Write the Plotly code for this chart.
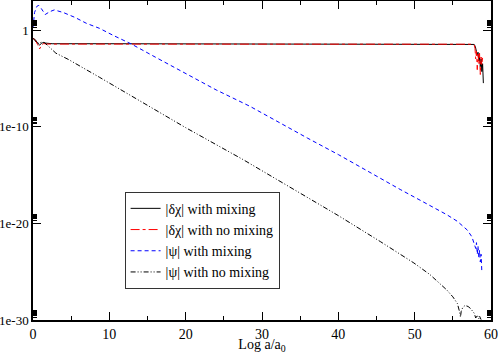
import plotly.graph_objects as go

# |delta chi| with mixing
chi_mix_x = [0, 0.3, 0.6, 0.87, 1.1, 1.3, 1.7, 2.5, 10, 20, 30, 40, 50, 57.0, 57.5, 57.8, 57.95,
             58.1, 58.2, 58.3, 58.4, 58.5, 58.6, 58.7, 58.8, 58.9, 59.0]
chi_mix_y = [1.4e-1, 1.0e-1, 4.5e-2, 2.8e-2, 4.0e-2, 4.9e-2, 4.4e-2, 3.8e-2, 3.8e-2, 3.8e-2, 3.8e-2,
             3.8e-2, 3.8e-2, 3.8e-2, 3.6e-2, 3.2e-2, 1.9e-2,
             6.3e-3, 2.5e-3, 5.0e-3, 6.3e-4, 1.6e-3, 1.6e-4, 1.0e-3, 5.0e-5, 3.2e-4, 3.2e-6]

# |delta chi| with no mixing
chi_nomix_x = [0, 0.3, 0.6, 0.87, 1.1, 1.4, 1.8, 2.5, 10, 20, 30, 40, 50, 57.5, 57.8, 57.9,
               58.0, 58.1, 58.2, 58.3, 58.4, 58.5, 58.6, 58.7, 58.8, 58.9]
chi_nomix_y = [1.4e-1, 8.9e-2, 3.2e-2, 1.1e-2, 2.5e-2, 4.0e-2, 3.5e-2, 3.5e-2, 3.5e-2, 3.5e-2,
               3.5e-2, 3.5e-2, 3.5e-2, 3.4e-2, 2.8e-2, 1.3e-2,
               1.0e-3, 6.3e-3, 7.9e-5, 3.2e-3, 3.2e-4, 4.0e-3, 2.5e-5, 1.6e-3, 2.5e-4, 1.3e-3]

# |psi| with mixing
psi_mix_x = [0, 0.2, 0.5, 0.75, 1.1, 1.6, 2.2, 2.8, 4, 5.5, 7, 8.7, 10.5, 12.9, 16, 20, 24, 28.4,
             32, 36, 40, 44, 48.1, 50.7, 52.5, 54.2, 55.6, 56.9, 57.5, 57.8, 58.0, 58.1, 58.2,
             58.3, 58.4, 58.5, 58.6, 58.7, 58.8]
psi_mix_y = [1.6e0, 6.3e1, 2.8e2, 3.5e2, 1.6e2, 4.0e1, 7.9e1, 1.2e2, 6.3e1, 2.0e1, 4.9e0, 1.5e0,
             2.8e-1, 3.5e-2, 1.6e-3, 3.2e-5, 6.3e-7, 1.3e-8,
             3.2e-10, 6.3e-12, 1.3e-13, 2.0e-15, 3.2e-17, 2.5e-18, 4.5e-19, 7.9e-20, 1.6e-20,
             2.0e-21, 4.0e-22, 7.9e-23, 2.5e-23, 1.0e-22, 6.3e-24, 4.0e-23, 3.2e-24, 1.6e-23,
             1.0e-24, 6.3e-24, 1.0e-25]

# |psi| with no mixing
psi_nomix_x = [0, 0.6, 1.2, 1.5, 3, 4.6, 8.7, 15, 20, 27.5, 35, 40, 45.5, 49.9, 52, 54.2, 55.0,
               55.6, 55.9, 56.0, 56.1, 56.3, 56.6, 57.0, 57.3, 57.8, 58.0, 58.2, 58.4, 58.5, 58.7]
psi_nomix_y = [1.4e-1, 4.0e-2, 5.6e-2, 5.0e-2, 4.0e-3, 9.3e-4, 1.3e-5, 1.6e-8, 7.9e-11, 4.0e-14,
               1.3e-17, 6.3e-20, 1.3e-22, 7.9e-25, 5.0e-26, 1.3e-27, 2.5e-28,
               5.0e-29, 6.3e-30, 2.0e-30, 7.9e-30, 2.0e-29, 3.2e-29, 2.5e-29, 1.6e-29, 5.0e-30,
               1.6e-30, 3.2e-30, 1.3e-30, 2.5e-30, 1.1e-30]

x_ticks = [0, 10, 20, 30, 40, 50, 60]
y_ticks = [1e-30, 1e-20, 1e-10, 1]
y_tick_text = ["1e-30", "1e-20", "1e-10", "1"]
y_minor = [m * 10.0 ** e for e in (-30, -20, -10, 0) for m in range(2, 10)]

font = "Liberation Serif, Times New Roman, serif"

fig = go.Figure()
fig.add_trace(go.Scatter(x=chi_mix_x, y=chi_mix_y, mode="lines", name="|δχ| with mixing",
                         line=dict(color="black", width=1)))
fig.add_trace(go.Scatter(x=chi_nomix_x, y=chi_nomix_y, mode="lines", name="|δχ| with no mixing",
                         line=dict(color="#ff0000", width=1, dash="dashdot")))
fig.add_trace(go.Scatter(x=psi_mix_x, y=psi_mix_y, mode="lines", name="|ψ| with mixing",
                         line=dict(color="#0000ff", width=1, dash="4px,3px")))
fig.add_trace(go.Scatter(x=psi_nomix_x, y=psi_nomix_y, mode="lines", name="|ψ| with no mixing",
                         line=dict(color="black", width=1, dash="5px,2px,1px,2px,1px,2px")))

axis_common = dict(showgrid=False, zeroline=False, showline=True, linecolor="black",
                   linewidth=1.5, mirror="ticks", ticks="inside", tickcolor="black",
                   automargin=False)

fig.update_xaxes(range=[0, 60], tickvals=x_ticks, ticklen=8, tickwidth=1,
                 tickfont=dict(family=font, size=14, color="black"),
                 minor=dict(ticks="inside", dtick=5, ticklen=4, tickcolor="black"),
                 title=dict(text="Log a/a<sub>0</sub>", standoff=2,
                            font=dict(family=font, size=14, color="black")),
                 **axis_common)
fig.update_yaxes(type="log", range=[-30, 3], tickvals=y_ticks, ticktext=y_tick_text,
                 ticklen=8, tickwidth=1,
                 tickfont=dict(family=font, size=13, color="black"),
                 minor=dict(ticks="inside", tickvals=y_minor, ticklen=4, tickcolor="black"),
                 **axis_common)

fig.update_layout(
    width=498, height=354,
    margin=dict(l=33, r=7, t=1, b=34),
    plot_bgcolor="white", paper_bgcolor="white",
    font=dict(family=font, size=14, color="black"),
    legend=dict(x=0.2, y=0.25, xanchor="left", yanchor="middle",
                bgcolor="white", bordercolor="#333333", borderwidth=1,
                font=dict(family=font, size=14), tracegroupgap=0, itemwidth=30),
    showlegend=True,
)

fig.write_html("out.html", config={"displayModeBar": False},
               post_script="document.body.style.margin='0';")
